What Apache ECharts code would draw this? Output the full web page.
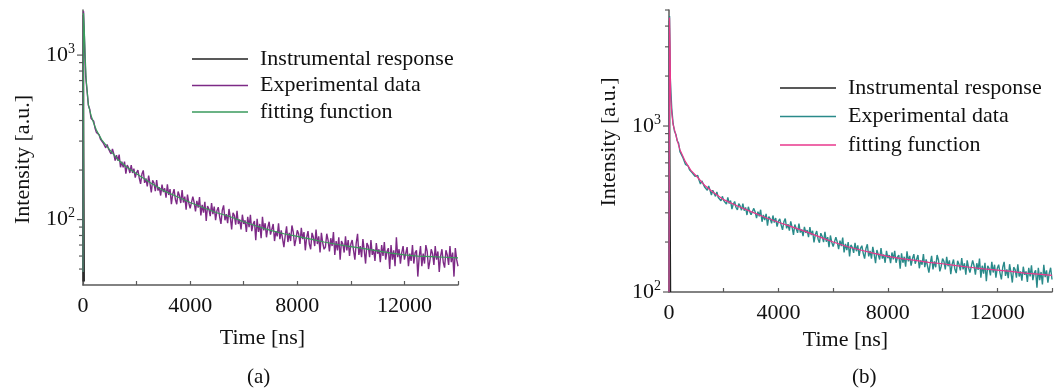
<!DOCTYPE html>
<html>
<head>
<meta charset="UTF-8">
<title>Decay curves</title>
<script src="https://cdn.jsdelivr.net/npm/echarts@6/dist/echarts.min.js"></script>
<style>
  html, body { margin: 0; padding: 0; background: #fff; }
  #main { width: 1056px; height: 392px; }
</style>
</head>
<body>
<div id="main"></div>
<script>
// ---- panel (a) ----
var irfTimeA = [0, 15, 30, 50];
var irfA = [42, 1750, 300, 42];
var expEarlyTimeA = [0, 20];
var expEarlyA = [48, 1850];
// experimental data, every 50 ns from 50 to 14000 (one row = 1000 ns)
var expA = [
  1310, 742, 611, 496, 469, 413, 407, 396, 359, 339, 345, 328, 309, 317, 293, 295, 273, 286, 270, 259,
  251, 269, 251, 228, 246, 228, 248, 208, 225, 208, 225, 190, 214, 207, 192, 214, 192, 204, 180, 193,
  200, 179, 165, 189, 199, 167, 178, 159, 185, 166, 146, 173, 167, 149, 174, 150, 157, 140, 163, 147,
  155, 136, 164, 141, 153, 124, 143, 153, 132, 124, 148, 140, 126, 151, 127, 138, 115, 142, 126, 117,
  119, 138, 127, 112, 130, 118, 137, 106, 123, 110, 128, 98, 121, 116, 105, 126, 108, 120, 99, 113,
  119, 104, 94, 114, 122, 99, 108, 95, 116, 103, 87, 110, 106, 93, 113, 94, 100, 87, 107, 94,
  99, 84, 104, 90, 107, 85, 94, 98, 75, 101, 84, 94, 77, 104, 86, 95, 78, 90, 97, 81,
  83, 94, 74, 85, 79, 95, 76, 86, 88, 68, 80, 91, 73, 83, 74, 92, 84, 69, 76, 86,
  82, 71, 89, 76, 84, 65, 78, 85, 71, 66, 83, 78, 69, 87, 71, 79, 63, 83, 72, 66,
  68, 82, 75, 64, 77, 69, 84, 61, 74, 65, 78, 57, 74, 71, 63, 79, 65, 75, 60, 71,
  75, 65, 57, 72, 82, 61, 69, 59, 76, 65, 54, 72, 69, 59, 75, 61, 66, 56, 72, 62,
  66, 55, 70, 60, 73, 57, 64, 67, 50, 70, 57, 65, 52, 78, 59, 66, 54, 63, 69, 57,
  58, 68, 52, 62, 56, 70, 54, 63, 65, 45, 59, 69, 52, 62, 54, 70, 64, 50, 56, 66,
  62, 53, 69, 57, 64, 48, 60, 66, 55, 51, 65, 61, 53, 69, 55, 63, 45, 67, 57, 52
];
var fitTimeA = [0, 20, 50, 80, 120, 200, 300, 400, 500, 700, 1000, 1300, 1600, 2000, 2500,
  3000, 3500, 4000, 4500, 5000, 5500, 6000, 6500, 7000, 7500, 8000, 8500, 9000, 9500,
  10000, 10500, 11000, 11500, 12000, 12500, 13000, 13500, 14000];
var fitA = [48, 1800, 1400, 1000, 700, 500, 430, 385, 350, 305, 265, 232, 210, 190, 168,
  150, 138, 127, 118, 110, 104, 97, 91, 86, 82, 79, 76, 73, 70.5,
  68.5, 66.5, 64.5, 62.5, 61, 60, 59.5, 59, 58.5];

// ---- panel (b) ----
var irfTimeB = [0, 15, 30, 60];
var irfB = [100, 4300, 900, 100];
var expEarlyTimeB = [0, 20];
var expEarlyB = [100, 4600];
var expB = [
  1877, 1280, 1036, 930, 893, 815, 790, 701, 696, 650, 648, 588, 597, 574, 545, 555, 523, 527, 497, 503,
  504, 471, 447, 467, 471, 429, 436, 410, 435, 410, 384, 410, 400, 377, 401, 371, 376, 354, 377, 356,
  363, 338, 371, 341, 355, 316, 339, 351, 323, 312, 341, 330, 311, 341, 309, 323, 291, 326, 305, 292,
  292, 319, 303, 279, 305, 286, 313, 265, 291, 271, 296, 251, 285, 276, 259, 289, 262, 279, 248, 267,
  276, 253, 237, 265, 277, 242, 256, 234, 266, 245, 221, 255, 249, 227, 258, 228, 238, 217, 247, 227,
  236, 214, 246, 220, 234, 199, 222, 233, 208, 198, 226, 216, 200, 230, 201, 214, 186, 219, 199, 188,
  191, 214, 200, 181, 204, 189, 213, 173, 195, 179, 200, 164, 192, 186, 172, 198, 176, 191, 165, 183,
  190, 171, 159, 183, 194, 164, 177, 159, 187, 169, 149, 179, 175, 157, 184, 159, 168, 150, 177, 160,
  167, 149, 173, 157, 177, 150, 162, 167, 138, 171, 150, 163, 142, 176, 153, 165, 144, 159, 169, 148,
  151, 167, 139, 155, 146, 169, 141, 157, 160, 131, 149, 165, 137, 153, 141, 167, 156, 133, 143, 159,
  153, 137, 163, 143, 155, 128, 147, 157, 137, 130, 154, 147, 135, 160, 137, 149, 127, 155, 140, 131,
  133, 155, 144, 127, 149, 136, 159, 122, 144, 129, 150, 116, 144, 139, 126, 152, 131, 146, 122, 139,
  146, 130, 119, 141, 152, 125, 137, 121, 147, 131, 114, 141, 137, 122, 147, 124, 133, 117, 142, 127,
  133, 115, 140, 124, 145, 118, 130, 135, 106, 140, 118, 132, 111, 146, 123, 135, 114, 130, 140, 119
];
var fitTimeB = [0, 20, 40, 60, 100, 150, 200, 300, 400, 600, 800, 1000, 1300, 1600, 2000, 2500,
  3000, 3500, 4000, 4500, 5000, 5500, 6000, 6500, 7000, 7500, 8000, 8500, 9000, 9500,
  10000, 10500, 11000, 11500, 12000, 12500, 13000, 13500, 14000];
var fitB = [100, 4500, 3000, 1500, 1200, 1020, 950, 820, 720, 610, 540, 500, 440, 400, 360, 330,
  305, 282, 263, 247, 231, 215, 200, 188, 179, 171, 164, 159, 155, 151,
  148, 144, 141, 138, 135.5, 133, 130, 128, 126];

var minorA = [50, 60, 70, 80, 90, 200, 300, 400, 500, 600, 700, 800, 900];
var majorA = [100, 1000];
var minorB = [200, 300, 400, 500, 600, 700, 800, 900, 2000, 3000, 4000, 5000];
var majorB = [100, 1000];

function pairs(ts, vs) {
  return ts.map(function (t, i) { return [t, vs[i]]; });
}
function regular(early, earlyT, vals) {
  var out = pairs(earlyT, early);
  for (var i = 0; i < vals.length; i++) out.push([50 * (i + 1), vals[i]]);
  return out;
}

var font = "'Liberation Serif', 'Times New Roman', serif";
var axisColor = '#5a5a5a';
var ZW = '\u200b';

function xAx(gi, gap, pad) {
  return {
    type: 'value', gridIndex: gi, min: 0, max: 14000, interval: 2000,
    name: 'Time [ns]', nameLocation: 'middle', nameGap: gap,
    nameTextStyle: { fontFamily: font, fontSize: 22, color: '#111', padding: pad },
    axisLine: { lineStyle: { color: axisColor, width: 1.5 } },
    axisTick: { inside: true, length: 4, lineStyle: { color: axisColor, width: 1.2 } },
    axisLabel: {
      fontFamily: font, fontSize: 22, color: '#111', margin: 10,
      formatter: function (v) { return (v % 4000 === 0 && v < 14000) ? String(v) : ''; }
    },
    splitLine: { show: false }
  };
}
function yAx(gi, min, max, pad) {
  return {
    type: 'log', logBase: 10, gridIndex: gi, min: min, max: max,
    name: 'Intensity [a.u.]', nameLocation: 'middle', nameGap: 49,
    nameTextStyle: { fontFamily: font, fontSize: 22, color: '#111', padding: pad },
    axisLine: { show: true, lineStyle: { color: axisColor, width: 1.5 } },
    axisTick: { show: false },
    axisLabel: {
      fontFamily: font, fontSize: 22, color: '#111', margin: 8,
      formatter: function (v) {
        var e = Math.log10(v);
        if (Math.abs(e - Math.round(e)) < 1e-6) return '10{s|' + Math.round(e) + '}';
        return '';
      },
      rich: { s: { fontFamily: font, fontSize: 14, verticalAlign: 'top', padding: [0, 0, 12, 0] } }
    },
    splitLine: { show: false }
  };
}
function legend(left, top, gap, names) {
  return {
    orient: 'vertical', left: left, top: top, padding: 0,
    icon: 'rect', itemWidth: 56, itemHeight: 1.5, itemGap: gap,
    data: names,
    textStyle: { fontFamily: font, fontSize: 22, lineHeight: 22, color: '#111', padding: [0, 0, 0, 7] }
  };
}
function line(name, gi, data, color, z, w) {
  return {
    name: name, type: 'line', xAxisIndex: gi, yAxisIndex: gi, data: data,
    symbol: 'none', showSymbol: false, z: z, animation: false,
    lineStyle: { color: color, width: w }, itemStyle: { color: color }
  };
}

var chart = echarts.init(document.getElementById('main'), null, { renderer: 'canvas' });
var option = {
  backgroundColor: '#fff',
  animation: false,
  grid: [
    { left: 83, top: 10, width: 375, height: 275 },
    { left: 669, top: 10, width: 383, height: 282 }
  ],
  xAxis: [xAx(0, 42, [0, 16, 0, 0]), xAx(1, 35, [0, 30, 0, 0])],
  yAxis: [yAx(0, 40, 1880, [0, 24, 0, 0]), yAx(1, 100, 5000, [0, 0, 0, 18])],
  legend: [
    legend(192, 48, 4.5, ['Instrumental response', 'Experimental data', 'fitting function']),
    legend(780, 77, 6.5, ['Instrumental response' + ZW, 'Experimental data' + ZW, 'fitting function' + ZW])
  ],
  series: [
    line('Instrumental response', 0, pairs(irfTimeA, irfA), '#222222', 1, 1.2),
    line('Experimental data', 0, regular(expEarlyA, expEarlyTimeA, expA), '#7d2a86', 2, 1.4),
    line('fitting function', 0, pairs(fitTimeA, fitA), '#3a9a5c', 3, 1.2),
    line('Instrumental response' + ZW, 1, pairs(irfTimeB, irfB), '#222222', 1, 1.2),
    line('Experimental data' + ZW, 1, regular(expEarlyB, expEarlyTimeB, expB), '#2a8a8a', 2, 1.4),
    line('fitting function' + ZW, 1, pairs(fitTimeB, fitB), '#e8378c', 3, 1.2)
  ]
};
chart.setOption(option);

// log-axis ticks drawn at the library's own pixel positions
function ticks(gi, vals, len) {
  return vals.map(function (v) {
    var p = chart.convertToPixel({ gridIndex: gi }, [0, v]);
    return {
      type: 'line', silent: true,
      shape: { x1: p[0] - len, y1: p[1], x2: p[0], y2: p[1] },
      style: { stroke: axisColor, lineWidth: 1.2 }
    };
  });
}
var g = [].concat(ticks(0, minorA, 4), ticks(0, majorA, 6), ticks(1, minorB, 4), ticks(1, majorB, 6));
g.push({ type: 'text', left: 247, top: 367, style: { text: '(a)', font: '21px ' + font, fill: '#111' } });
g.push({ type: 'text', left: 852, top: 367, style: { text: '(b)', font: '21px ' + font, fill: '#111' } });
chart.setOption({ graphic: g });
</script>
</body>
</html>
